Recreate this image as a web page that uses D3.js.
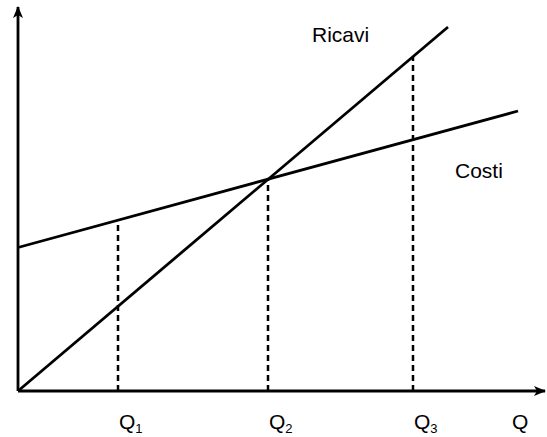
<!DOCTYPE html>
<html>
<head>
<meta charset="utf-8">
<script src="https://cdn.jsdelivr.net/npm/d3@7"></script>
<style>
  body { margin: 0; background: #fff; }
  text { font-family: "Liberation Sans", Arial, sans-serif; fill: #000; }
</style>
</head>
<body>
<svg id="chart" width="547" height="437"></svg>
<script>
// data (quantity Q on x, amount on y)
var costiQ = [0, 10];
var costiV = [4.1, 8.0];
var ricaviQ = [0, 8.6];
var ricaviV = [0, 10.4];
var qLabels = ["1", "2", "3"];
var qValues = [2, 5, 7.9];
var qTops = [4.9, 6.05, 9.55];   // where each dashed line meets the curves

var svg = d3.select("#chart");

var x = d3.scaleLinear().domain([0, 10]).range([18, 518]);
var y = d3.scaleLinear().domain([0, 10]).range([391, 41]);

// arrow heads
var defs = svg.append("defs");
defs.append("marker")
    .attr("id", "arrow")
    .attr("viewBox", "0 0 12 10")
    .attr("refX", 11)
    .attr("refY", 5)
    .attr("markerWidth", 12)
    .attr("markerHeight", 10)
    .attr("markerUnits", "userSpaceOnUse")
    .attr("orient", "auto")
  .append("path")
    .attr("d", "M0,0 L12,5 L0,10 L3,5 Z")
    .attr("fill", "#000");

// axes
svg.append("line")
    .attr("x1", x(0)).attr("y1", y(0))
    .attr("x2", x(10.54)).attr("y2", y(0))
    .attr("stroke", "#000").attr("stroke-width", 2.8)
    .attr("marker-end", "url(#arrow)");

svg.append("line")
    .attr("x1", x(0)).attr("y1", y(0))
    .attr("x2", x(0)).attr("y2", y(10.97))
    .attr("stroke", "#000").attr("stroke-width", 2.8)
    .attr("marker-end", "url(#arrow)");

// dashed verticals
svg.selectAll(".drop")
  .data(qValues)
  .enter().append("line")
    .attr("class", "drop")
    .attr("x1", function(d) { return x(d); })
    .attr("x2", function(d) { return x(d); })
    .attr("y1", y(0))
    .attr("y2", function(d, i) { return y(qTops[i]); })
    .attr("stroke", "#000")
    .attr("stroke-width", 2.5)
    .attr("stroke-dasharray", "6,4");

// lines
var line = d3.line()
    .x(function(d) { return x(d[0]); })
    .y(function(d) { return y(d[1]); });

svg.append("path")
    .datum(d3.zip(costiQ, costiV))
    .attr("d", line)
    .attr("fill", "none")
    .attr("stroke", "#000")
    .attr("stroke-width", 2.8);

svg.append("path")
    .datum(d3.zip(ricaviQ, ricaviV))
    .attr("d", line)
    .attr("fill", "none")
    .attr("stroke", "#000")
    .attr("stroke-width", 2.8);

// labels
svg.append("text")
    .attr("x", 312).attr("y", 42)
    .attr("font-size", 21)
    .text("Ricavi");

svg.append("text")
    .attr("x", 455).attr("y", 178)
    .attr("font-size", 21)
    .text("Costi");

var ql = svg.selectAll(".qlab")
  .data(qValues)
  .enter().append("text")
    .attr("class", "qlab")
    .attr("x", function(d) { return x(d) + 1; })
    .attr("y", 429)
    .attr("font-size", 21);
ql.append("tspan").text("Q");
ql.append("tspan")
    .attr("dy", 4)
    .attr("font-size", 13)
    .text(function(d, i) { return qLabels[i]; });

svg.append("text")
    .attr("x", 512).attr("y", 429)
    .attr("font-size", 21)
    .text("Q");
</script>
</body>
</html>
